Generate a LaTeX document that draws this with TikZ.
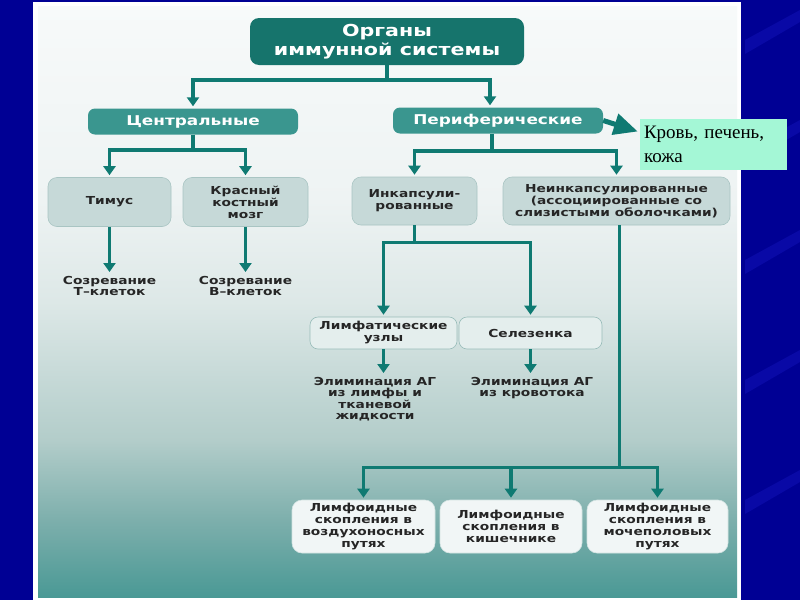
\documentclass[tikz,border=0pt]{standalone}
\usepackage{fontspec}
\newfontfamily\boxfont{DejaVu Sans Bold}[FakeStretch=1.25]
\newfontfamily\krovfont{Liberation Serif}
\usetikzlibrary{arrows.meta, calc}

\definecolor{bgblue}{HTML}{000094}
\definecolor{streakblue}{HTML}{1A1AC8}
\definecolor{darkteal}{HTML}{16746C}
\definecolor{midteal}{HTML}{3A968F}
\definecolor{arrowteal}{HTML}{0F7A72}
\definecolor{greybox}{HTML}{C6D9D8}
\definecolor{greyedge}{HTML}{A9C5C3}
\definecolor{palefill}{HTML}{E4EEED}
\definecolor{paleedge}{HTML}{98BCB9}
\definecolor{whitefill}{HTML}{F1F6F6}
\definecolor{whiteedge}{HTML}{D3E3E2}
\definecolor{mint}{HTML}{A4F7D6}
\definecolor{fadeA}{HTML}{4A9995}
\definecolor{fadeB}{HTML}{7DAFAC}
\definecolor{fadeC}{HTML}{B3CDCA}
\definecolor{fadeD}{HTML}{DDE8E7}
\definecolor{fadeE}{HTML}{EEF3F3}
\definecolor{fadeF}{HTML}{F7FAFA}
\pgfdeclareverticalshading{panelfade}{100bp}{color(0bp)=(fadeA); color(25bp)=(fadeA);
  color(31.5bp)=(fadeB); color(38.3bp)=(fadeC); color(50bp)=(fadeD); color(58.5bp)=(fadeE);
  color(75bp)=(fadeF); color(100bp)=(fadeF)}

\begin{document}
\begin{tikzpicture}[x=1pt, y=-1pt,
  topbox/.style={fill=darkteal, rounded corners=9pt, minimum width=274pt, minimum height=47pt,
    text=white, align=center, inner sep=0pt, font=\boxfont\fontsize{16.5}{19}\selectfont},
  groupbox/.style={fill=midteal, rounded corners=7pt, minimum width=210pt, minimum height=26pt,
    text=white, inner sep=0pt, font=\boxfont\fontsize{13.5}{15}\selectfont},
  organbox/.style={fill=greybox, draw=greyedge, line width=.6pt, rounded corners=9pt,
    minimum height=49pt, align=center, inner sep=0pt, text=black!85,
    font=\boxfont\fontsize{11}{12}\selectfont},
  palebox/.style={organbox, fill=palefill, draw=paleedge, rounded corners=8pt, minimum height=32pt},
  whitebox/.style={organbox, fill=whitefill, draw=whiteedge, rounded corners=10pt, minimum height=53pt},
  result/.style={align=center, inner sep=2pt, anchor=north, text=black!85,
    font=\boxfont\fontsize{11}{11.5}\selectfont},
  link/.style={draw=arrowteal, line width=3.6pt},
  flow/.style={link, shorten >=2pt, -{Triangle[width=12pt,length=9pt]}}]
  \useasboundingbox (0,0) rectangle (800,600);
  % background and panel
  \fill[bgblue] (0,0) rectangle (800,600);
  \foreach \s in {40,150,260,380,500}
    \fill[streakblue, opacity=.35] (745,\s) -- (800,\s-30) -- (800,\s-18) -- (745,\s+14) -- cycle;
  \fill[white] (33,2) rectangle (741,600);
  \shade[shading=panelfade] (38,6) rectangle (737,597);

  % boxes
  \node[topbox] (organs) at (387,41.5) {Органы\\иммунной системы};
  \node[groupbox] (central) at (193,121.5) {Центральные};
  \node[groupbox] (periph) at (498,120.5) {Периферические};
  \node[fill=mint, minimum width=147pt, minimum height=51pt, text width=139pt, inner sep=4pt,
    align=left, font=\krovfont\fontsize{19}{24}\selectfont] (krov) at (713.5,144.5) {Кровь, печень,\\кожа};

  \node[organbox, minimum width=123pt] (thymus) at (109.5,202) {Тимус};
  \node[organbox, minimum width=125pt] (marrow) at (245.5,202) {Красный\\костный\\мозг};
  \node[organbox, minimum width=125pt, minimum height=48pt] (encaps) at (414.5,201) {Инкапсули-\\рованные};
  \node[organbox, minimum width=227pt, minimum height=48pt] (nonenc) at (616.5,201)
    {Неинкапсулированные\\(ассоциированные со\\слизистыми оболочками)};

  \node[result] (matT) at (109.5,274) {Созревание\\Т–клеток};
  \node[result] (matB) at (245.5,274) {Созревание\\В–клеток};

  \node[palebox, minimum width=147pt] (lymph) at (383.5,333) {Лимфатические\\узлы};
  \node[palebox, minimum width=143pt] (spleen) at (530.5,333) {Селезенка};
  \node[result] (elimL) at (375,375) {Элиминация АГ\\из лимфы и\\тканевой\\жидкости};
  \node[result] (elimB) at (532,375) {Элиминация АГ\\из кровотока};

  \node[whitebox, minimum width=143pt] (air) at (363.5,526.5) {Лимфоидные\\скопления в\\воздухоносных\\путях};
  \node[whitebox, minimum width=142pt] (gut) at (511,526.5) {Лимфоидные\\скопления в\\кишечнике};
  \node[whitebox, minimum width=141pt] (uro) at (657.5,526.5) {Лимфоидные\\скопления в\\мочеполовых\\путях};

  % connectors
  \draw[link] (organs.south) -- ++(0,15) coordinate (b0);
  \draw[flow] (b0) -| (central.north);
  \draw[flow] (b0) -| ($(periph.north)+(-8,0)$);

  \draw[link] (central.south) -- ++(0,15) coordinate (b1);
  \draw[flow] (b1) -| (thymus.north);
  \draw[flow] (b1) -| (marrow.north);
  \draw[flow] (thymus.south) -- (thymus.south |- matT.north);
  \draw[flow] (marrow.south) -- (marrow.south |- matB.north);

  \draw[link] ($(periph.south)+(-6,0)$) -- ++(0,17) coordinate (b2);
  \draw[flow] (b2) -| (encaps.north);
  \draw[flow] (b2) -| (nonenc.north);
  \draw[arrowteal, line width=5pt, -{Triangle[width=21pt,length=24pt]}]
    (periph.east) -- ($(krov.west)+(-2,-13)$);

  \draw[link] (encaps.south) -- ++(0,17) coordinate (b3);
  \draw[flow] (b3) -| (lymph.north);
  \draw[flow] (b3) -| (spleen.north);
  \draw[flow] (lymph.south) -- (lymph.south |- elimL.north);
  \draw[flow] (spleen.south) -- (spleen.south |- elimB.north);

  \draw[link] ($(nonenc.south)+(3,0)$) -- ++(0,242) coordinate (b4);
  \draw[flow] (b4) -| (air.north);
  \draw[flow] (b4) -| (gut.north);
  \draw[flow] (b4) -| (uro.north);
\end{tikzpicture}
\end{document}
